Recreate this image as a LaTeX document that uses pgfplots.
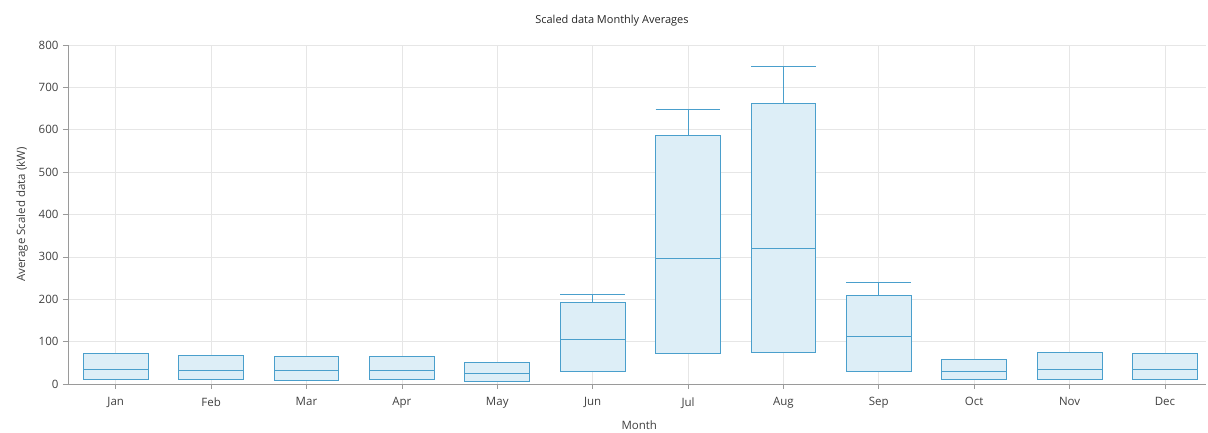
\documentclass[border=0pt]{standalone}
\usepackage{pgfplots}
\pgfplotsset{compat=1.18}
\usepgfplotslibrary{statistics}
\usepackage{fontspec}
\setmainfont{Open Sans}
\definecolor{boxline}{HTML}{4A9FCC}
\definecolor{boxfill}{HTML}{DDEEF7}
\definecolor{gridc}{HTML}{E6E6E6}
\definecolor{axc}{HTML}{9A9A9A}
\definecolor{txt}{HTML}{404040}
\pgfplotsset{
  mybox/.style={draw=boxline, fill=boxfill, line width=0.9pt, solid, mark=none},
}
\newcommand{\bx}[5]{% pos, lw=lq, med, uq, uw
  \addplot+[mybox, boxplot prepared={draw position=#1, lower whisker=#2, lower quartile=#2, median=#3, upper quartile=#4, upper whisker=#5}] coordinates {};
}
\begin{document}
\begin{tikzpicture}
\begin{axis}[
  scale only axis,
  width=1138pt, height=339pt,
  xmin=-0.5, xmax=11.43, ymin=0, ymax=800,
  boxplot/draw direction=y,
  boxplot/box extend=0.68,
  boxplot/whisker extend=0.68,
  axis lines*=left,
  axis line style={axc, line width=0.8pt},
  xtick={0,...,11},
  xticklabels={Jan,Feb,Mar,Apr,May,Jun,Jul,Aug,Sep,Oct,Nov,Dec},
  ytick={0,100,...,800},
  tick style={axc, line width=0.7pt},
  tick align=outside,
  major tick length=5pt,
  grid=major,
  major grid style={gridc, line width=0.7pt},
  ticklabel style={font=\fontsize{11.5}{13}\selectfont, text=txt},
  /pgf/number format/assume math mode=true,
  yticklabel style={xshift=-1pt},
  xticklabel style={yshift=-5pt},
  xlabel={Month},
  ylabel={Average Scaled data (kW)},
  label style={font=\fontsize{11.5}{13}\selectfont, text=txt},
  xlabel style={at={(ticklabel cs:0.502)}, anchor=north, yshift=-5pt},
  ylabel style={yshift=4pt},
  title={Scaled data Monthly Averages},
  title style={font=\fontsize{11}{13}\selectfont, text=black!85, at={(0.478,1)}, yshift=9pt},
  clip=false,
]
\bx{0}{11}{35}{71}{71}
\bx{1}{10}{33}{68}{68}
\bx{2}{8}{33}{66}{66}
\bx{3}{11}{33}{66}{66}
\bx{4}{5}{25}{51}{51}
\bx{5}{29}{104}{193}{212}
\bx{6}{71}{296}{587}{648}
\bx{7}{74}{319}{662}{750}
\bx{8}{29}{113}{208}{240}
\bx{9}{10}{29}{58}{58}
\bx{10}{10}{35}{74}{74}
\bx{11}{10}{35}{71}{71}
\end{axis}
\path ([shift={(-68pt,-46pt)}]current axis.south west) rectangle ([shift={(2pt,45pt)}]current axis.north east);
\end{tikzpicture}
\end{document}
